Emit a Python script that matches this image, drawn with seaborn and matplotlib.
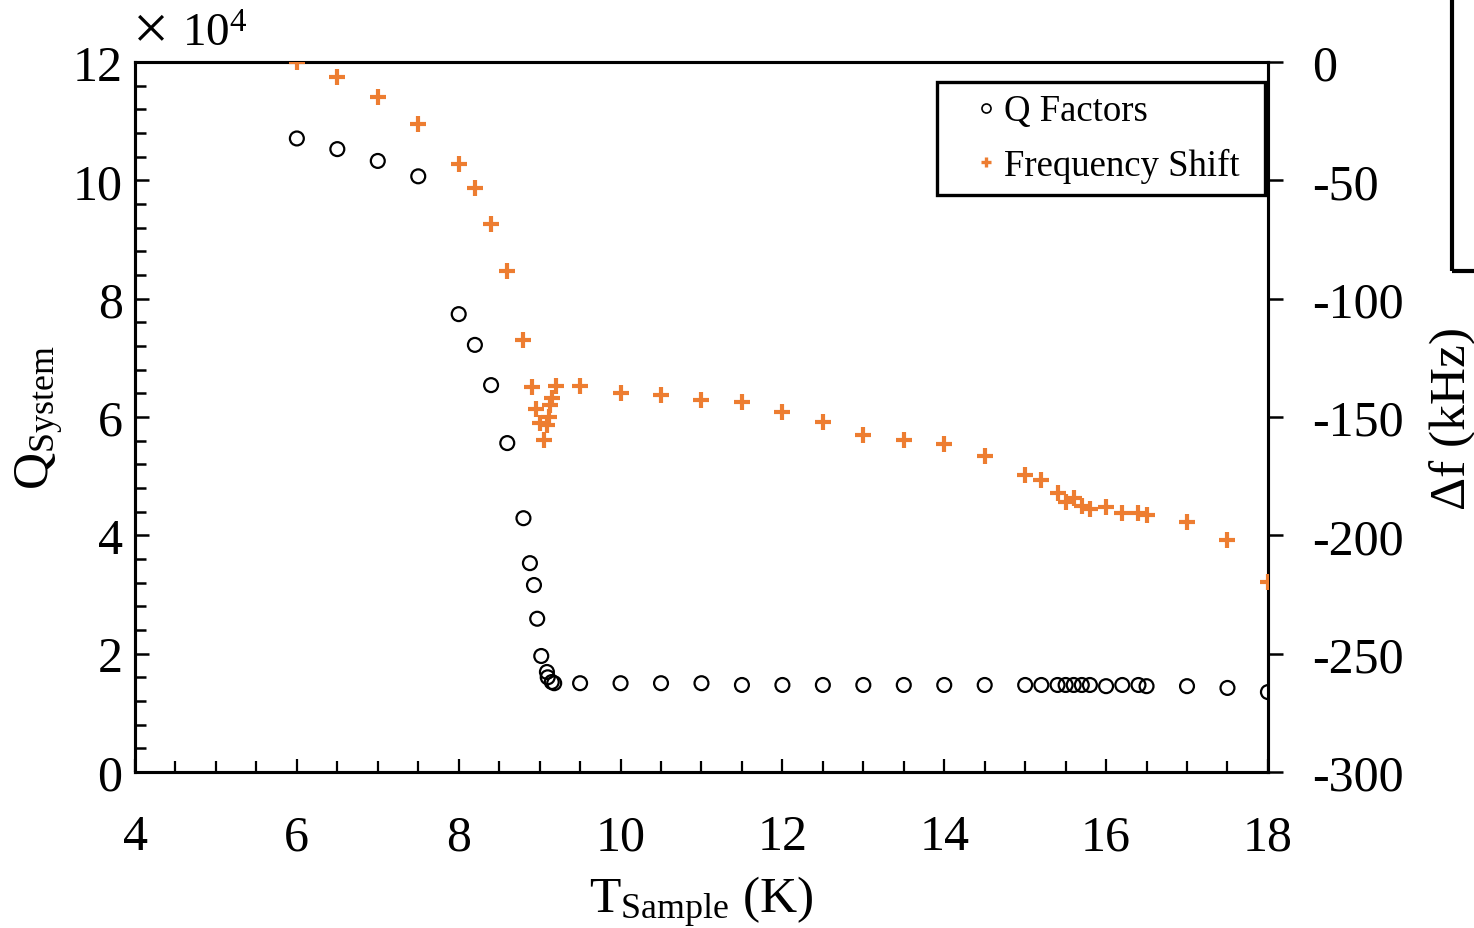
import numpy as np
import pandas as pd
import matplotlib
matplotlib.use("Agg")
import matplotlib.pyplot as plt
import seaborn as sns
from matplotlib.ticker import MultipleLocator, FuncFormatter
from matplotlib.lines import Line2D
from matplotlib.patches import Rectangle

# Q factor of the system vs sample temperature
t_q = [6.0, 6.5, 7.0, 7.5, 8.0, 8.2, 8.4, 8.6, 8.8, 8.88, 8.93, 8.97, 9.02,
       9.09, 9.10, 9.15, 9.18, 9.5, 10.0, 10.5, 11.0, 11.5, 12.0, 12.5, 13.0,
       13.5, 14.0, 14.5, 15.0, 15.2, 15.4, 15.5, 15.6, 15.7, 15.8, 16.0, 16.2,
       16.4, 16.5, 17.0, 17.5, 18.0]
q_sys = [10.71, 10.53, 10.33, 10.07, 7.74, 7.22, 6.54, 5.56, 4.29, 3.53, 3.16,
         2.59, 1.96, 1.69, 1.60, 1.52, 1.50, 1.50, 1.50, 1.50, 1.50, 1.47, 1.47,
         1.47, 1.47, 1.47, 1.47, 1.47, 1.47, 1.47, 1.47, 1.47, 1.47, 1.47, 1.47,
         1.45, 1.47, 1.47, 1.45, 1.45, 1.42, 1.35]  # x 10^4

# frequency shift (kHz) vs sample temperature
t_f = [6.0, 6.5, 7.0, 7.5, 8.0, 8.2, 8.4, 8.6, 8.8, 8.9, 8.95, 9.0, 9.05, 9.09,
       9.12, 9.13, 9.15, 9.2, 9.5, 10.0, 10.5, 11.0, 11.5, 12.0, 12.5, 13.0,
       13.5, 14.0, 14.5, 15.0, 15.2, 15.4, 15.5, 15.6, 15.7, 15.8, 16.0, 16.2,
       16.4, 16.5, 17.0, 17.5, 18.0]
df_khz = [0.0, -6.3, -14.8, -26.2, -43.1, -53.2, -68.4, -88.3, -117.4, -137.4,
          -146.6, -152.7, -159.8, -153.4, -150.0, -144.8, -142.0, -136.8,
          -136.8, -139.8, -140.5, -142.8, -143.6, -147.9, -152.1, -157.6,
          -159.7, -161.4, -166.5, -174.5, -176.6, -182.0, -185.8, -184.1,
          -187.5, -188.9, -188.1, -190.5, -190.5, -191.3, -194.5, -201.9,
          -219.8]

orange = "#ED7D31"

sns.set_style("ticks")
plt.rcParams["font.family"] = ["Liberation Serif", "DejaVu Serif"]
plt.rcParams["mathtext.fontset"] = "custom"
plt.rcParams["mathtext.rm"] = "Liberation Serif"
plt.rcParams["mathtext.it"] = "Liberation Serif:italic"
plt.rcParams["axes.unicode_minus"] = False
plt.rcParams["text.color"] = "black"
plt.rcParams["axes.labelcolor"] = "black"
plt.rcParams["xtick.color"] = "black"
plt.rcParams["ytick.color"] = "black"

dq = pd.DataFrame({"T": t_q, "Q": np.array(q_sys) * 1e4})
dfr = pd.DataFrame({"T": t_f, "df": df_khz})

fig, ax = plt.subplots(figsize=(14.74, 9.29), dpi=100)
fig.subplots_adjust(left=0.0916, right=0.8602, bottom=0.168, top=0.932)
ax2 = ax.twinx()

sns.scatterplot(data=dq, x="T", y="Q", ax=ax, marker="o", s=100,
                facecolor="none", edgecolor="black", linewidth=1.6, zorder=3)
sns.scatterplot(data=dfr, x="T", y="df", ax=ax2, marker="+", s=140,
                color=orange, linewidth=3.0, zorder=3)

ax.set_xlim(4, 18)
ax.set_ylim(0, 120000)
ax2.set_ylim(-300, 0)

ax.xaxis.set_major_locator(MultipleLocator(2))
ax.xaxis.set_minor_locator(MultipleLocator(0.5))
ax.yaxis.set_major_locator(MultipleLocator(20000))
ax.yaxis.set_minor_locator(MultipleLocator(4000))
ax.yaxis.set_major_formatter(FuncFormatter(lambda v, p: f"{v / 1e4:.0f}"))
ax2.yaxis.set_major_locator(MultipleLocator(50))

# scale factor of the left axis
fig.text(151 / 1474, 1 - 33 / 929, "×", fontsize=46, ha="center", va="center")
fig.text(182 / 1474, 1 - 47 / 929, r"$10^{4}$", fontsize=34, ha="left", va="baseline")

ax.tick_params(axis="x", which="major", direction="in", length=9.5, width=1.6,
               labelsize=36, pad=30, top=False)
ax.tick_params(axis="x", which="minor", direction="in", length=8, width=1.6, top=False)
ax.tick_params(axis="y", which="major", direction="in", length=10, width=1.8,
               labelsize=36, pad=9, right=False)
ax.tick_params(axis="y", which="minor", direction="in", length=8, width=1.8, right=False)
ax2.tick_params(axis="y", which="major", direction="out", length=11, width=1.8,
                labelsize=36, pad=21)
for lab in ax2.get_yticklabels():
    lab.set_horizontalalignment("left")

for a in (ax, ax2):
    for sp in a.spines.values():
        sp.set_color("black")
        sp.set_linewidth(2.2)

ax.set_xlabel(r"$\mathrm{T}_{\mathrm{Sample}}$ (K)", fontsize=37, labelpad=10)
ax.set_ylabel(r"$\mathrm{Q}_{\mathrm{System}}$", fontsize=37, labelpad=5)
ax2.set_ylabel("Δf (kHz)", fontsize=37, labelpad=18)

handles = [
    Line2D([], [], linestyle="none", marker="o", markersize=6.5, markerfacecolor="none",
           markeredgecolor="black", markeredgewidth=1.2, label="Q Factors"),
    Line2D([], [], linestyle="none", marker="+", markersize=7.5, color=orange,
           markeredgewidth=2.4, label="Frequency Shift"),
]
leg = ax2.legend(handles=handles, loc="upper left",
                 bbox_to_anchor=(0.7079, 0.8183, 0.2895, 0.1535), mode="expand",
                 fontsize=26.5, frameon=True, fancybox=False, framealpha=1,
                 handletextpad=-0.5, handlelength=2.0, borderpad=0.32,
                 labelspacing=0.52, borderaxespad=0)
leg.get_frame().set_edgecolor("black")
leg.get_frame().set_linewidth(2.4)

# partial box cut at the right edge of the original figure
fig.add_artist(Rectangle((1452 / 1474, 1 - 272 / 929), 0.2, 0.5, transform=fig.transFigure,
                         fill=False, edgecolor="black", linewidth=3, clip_on=False))

fig.savefig("out.png", dpi=100)
